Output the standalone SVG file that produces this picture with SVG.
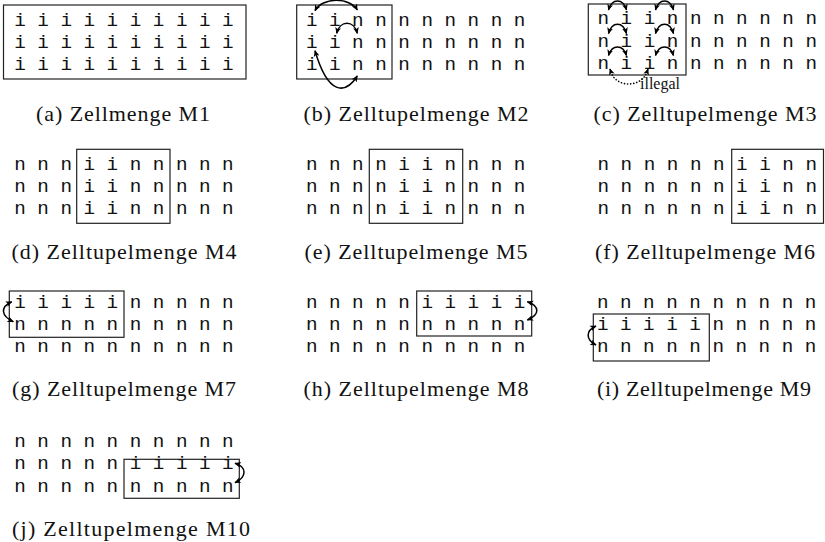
<svg xmlns="http://www.w3.org/2000/svg" width="825" height="542" viewBox="0 0 825 542">
<style>
.g{font-family:"Liberation Mono","DejaVu Sans Mono",monospace;font-size:19.25px;fill:#111}
.cap{font-family:"Liberation Serif","Times New Roman",serif;font-size:22px;fill:#111;text-anchor:middle}
.box{fill:none;stroke:#222;stroke-width:1.2}
.arr{fill:none;stroke:#000;stroke-width:1.5;marker-start:url(#ah);marker-end:url(#ah)}
.dot{fill:none;stroke:#000;stroke-width:1.6;stroke-dasharray:0.1 3;stroke-linecap:round}
.lbl{font-family:"Liberation Serif","Times New Roman",serif;font-size:16px;fill:#111}
</style>
<defs>
<marker id="ah" viewBox="0 0 10 10" refX="9" refY="5" markerWidth="6.5" markerHeight="6.5" markerUnits="userSpaceOnUse" orient="auto-start-reverse"><path d="M0,0.5 L10,5 L0,9.5 L2.5,5 z" fill="#000"/></marker>
</defs>

<g id="panel-a">
<rect class="box" x="3.5" y="5" width="242.5" height="74"/>
<text class="g" x="14.2" y="26">i i i i i i i i i i</text>
<text class="g" x="14.2" y="48">i i i i i i i i i i</text>
<text class="g" x="14.2" y="70">i i i i i i i i i i</text>
<text class="cap" x="123" y="121" textLength="174" lengthAdjust="spacing">(a) Zellmenge M1</text>
</g>

<g id="panel-b">
<rect class="box" x="296.7" y="5" width="95.3" height="74"/>
<text class="g" x="305.9" y="26">i i n n n n n n n n</text>
<text class="g" x="305.9" y="48">i i n n n n n n n n</text>
<text class="g" x="305.9" y="70">i i n n n n n n n n</text>
<text class="cap" x="416" y="121" textLength="225" lengthAdjust="spacing">(b) Zelltupelmenge M2</text>
</g>

<g id="panel-c">
<rect class="box" x="588.3" y="4" width="97.7" height="71"/>
<text class="g" x="597.5" y="23.5">n i i n n n n n n n</text>
<text class="g" x="597.5" y="46.5">n i i n n n n n n n</text>
<text class="g" x="597.5" y="68.5">n i i n n n n n n n</text>
<text class="lbl" x="640" y="89">illegal</text>
<text class="cap" x="705" y="121" textLength="223" lengthAdjust="spacing">(c) Zelltupelmenge M3</text>
</g>

<g id="panel-d">
<rect class="box" x="76.7" y="149.3" width="93.3" height="74"/>
<text class="g" x="14.2" y="170">n n n i i n n n n n</text>
<text class="g" x="14.2" y="192">n n n i i n n n n n</text>
<text class="g" x="14.2" y="214">n n n i i n n n n n</text>
<text class="cap" x="124" y="259" textLength="225" lengthAdjust="spacing">(d) Zelltupelmenge M4</text>
</g>

<g id="panel-e">
<rect class="box" x="369.3" y="149.3" width="93.4" height="74"/>
<text class="g" x="305.9" y="170">n n n n i i n n n n</text>
<text class="g" x="305.9" y="192">n n n n i i n n n n</text>
<text class="g" x="305.9" y="214">n n n n i i n n n n</text>
<text class="cap" x="416" y="259" textLength="223" lengthAdjust="spacing">(e) Zelltupelmenge M5</text>
</g>

<g id="panel-f">
<rect class="box" x="731.7" y="149.3" width="91.8" height="74"/>
<text class="g" x="597.5" y="170">n n n n n n i i n n</text>
<text class="g" x="597.5" y="192">n n n n n n i i n n</text>
<text class="g" x="597.5" y="214">n n n n n n i i n n</text>
<text class="cap" x="705" y="259" textLength="220" lengthAdjust="spacing">(f) Zelltupelmenge M6</text>
</g>

<g id="panel-g">
<rect class="box" x="9.3" y="291" width="114.7" height="46.3"/>
<text class="g" x="14.2" y="308">i i i i i n n n n n</text>
<text class="g" x="14.2" y="330">n n n n n n n n n n</text>
<text class="g" x="14.2" y="352">n n n n n n n n n n</text>
<text class="cap" x="124" y="396" textLength="224" lengthAdjust="spacing">(g) Zelltupelmenge M7</text>
</g>

<g id="panel-h">
<rect class="box" x="416.7" y="291" width="115" height="45"/>
<text class="g" x="305.9" y="308">n n n n n i i i i i</text>
<text class="g" x="305.9" y="330">n n n n n n n n n n</text>
<text class="g" x="305.9" y="352">n n n n n n n n n n</text>
<text class="cap" x="416" y="396" textLength="225" lengthAdjust="spacing">(h) Zelltupelmenge M8</text>
</g>

<g id="panel-i">
<rect class="box" x="593.3" y="314" width="116" height="47"/>
<text class="g" x="596.9" y="308">n n n n n n n n n n</text>
<text class="g" x="596.9" y="330">i i i i i n n n n n</text>
<text class="g" x="596.9" y="352">n n n n n n n n n n</text>
<text class="cap" x="704" y="396" textLength="214" lengthAdjust="spacing">(i) Zelltupelmenge M9</text>
</g>

<g id="panel-j">
<rect class="box" x="124" y="459.3" width="115.3" height="39"/>
<text class="g" x="14.2" y="447">n n n n n n n n n n</text>
<text class="g" x="14.2" y="469">n n n n n i i i i i</text>
<text class="g" x="14.2" y="491.5">n n n n n n n n n n</text>
<text class="cap" x="131" y="536" textLength="238" lengthAdjust="spacing">(j) Zelltupelmenge M10</text>
</g>

<g id="connectors">
<path class="arr" d="M315,10.7 C322,-3 350,-3 357.3,10"/>
<path class="arr" d="M336.7,33.3 C340,20 354,20 357.3,33.3"/>
<path class="arr" d="M315,50.7 C328,95 345,95 357.3,76"/>
<path class="arr" d="M608.5,10 C612,-2 623,-2 626.5,10"/>
<path class="arr" d="M655.5,10 C659,-2 670,-2 673.5,10"/>
<path class="arr" d="M608.5,33.5 C612,21 623,21 626.5,33.5"/>
<path class="arr" d="M655.5,33.5 C659,21 670,21 673.5,33.5"/>
<path class="arr" d="M608.5,55.5 C612,44 623,44 626.5,55.5"/>
<path class="arr" d="M655.5,55.5 C659,44 670,44 673.5,55.5"/>
<path class="dot" d="M611,72 C616,88 641,88 647,72"/>
<path d="M611,72 l-1,-3" fill="none" stroke="#000" stroke-width="1.5" marker-end="url(#ah)"/>
<path d="M647,72 l1,-3" fill="none" stroke="#000" stroke-width="1.5" marker-end="url(#ah)"/>
<path class="arr" d="M11.7,301.7 C0,307 1,316 13.3,321.7"/>
<path class="arr" d="M527.3,301.7 C540,306 540,315 527.3,320"/>
<path class="arr" d="M596,326 C585,331 586,340 596,345"/>
<path class="arr" d="M235,463.3 C247,467 247,477 235,482.7"/>
</g>
</svg>
